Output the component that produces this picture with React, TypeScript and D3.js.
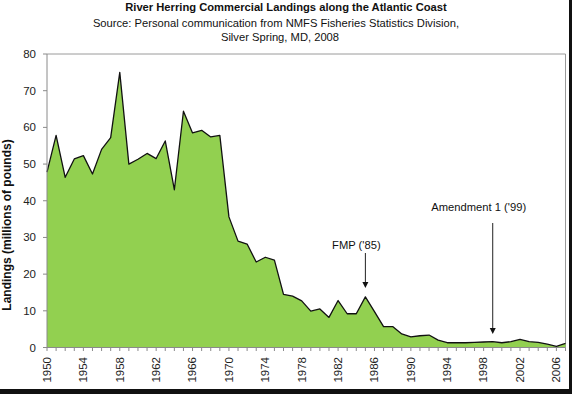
import React from "react";
import * as d3 from "d3";

const years: number[] = d3.range(1950, 2008);
// landings, millions of pounds
const landings: number[] = [
  47.8, 57.8, 46.4, 51.4, 52.3, 47.3, 54.0, 57.2, 75.0, 50.0,
  51.3, 52.9, 51.5, 56.3, 43.0, 64.4, 58.5, 59.2, 57.4, 57.8,
  35.6, 29.0, 28.2, 23.3, 24.6, 23.8, 14.5, 14.0, 12.7, 9.9,
  10.5, 8.2, 12.8, 9.2, 9.2, 13.8, 9.8, 5.7, 5.7, 3.7,
  2.9, 3.2, 3.4, 2.0, 1.3, 1.3, 1.3, 1.4, 1.5, 1.6,
  1.3, 1.6, 2.2, 1.6, 1.4, 0.9, 0.3, 1.1,
];
const yTicks: number[] = [0, 10, 20, 30, 40, 50, 60, 70, 80];
const xLabelYears: number[] = d3.range(1950, 2007, 4);

const title = "River Herring Commercial Landings along the Atlantic Coast";
const subtitle1 = "Source: Personal communication from NMFS Fisheries Statistics Division,";
const subtitle2 = "Silver Spring, MD, 2008";
const yTitle = "Landings (millions of pounds)";
const notes = [
  { label: "FMP ('85)", year: 1985, textDx: -9, textY: 249, top: 253, tip: 288 },
  { label: "Amendment 1 ('99)", year: 1999, textDx: -14, textY: 211, top: 223, tip: 334 },
];

const W = 572;
const H = 394;
const plot = { left: 47, right: 565.5, top: 54, bottom: 347.5 };
const font = "'Liberation Sans', Arial, sans-serif";

export default function App() {
  const x = d3.scaleLinear().domain([1950, 2007]).range([plot.left, plot.right]);
  const y = d3.scaleLinear().domain([0, 80]).range([plot.bottom, plot.top]);

  const data = years.map((yr, i) => ({ yr, v: landings[i] }));
  const area = d3
    .area<{ yr: number; v: number }>()
    .x((d) => x(d.yr))
    .y0(y(0))
    .y1((d) => y(d.v));
  const line = d3
    .line<{ yr: number; v: number }>()
    .x((d) => x(d.yr))
    .y((d) => y(d.v));

  return (
    <svg width={W} height={H} style={{ display: "block", fontFamily: font }}>
      <style>{`body{margin:0}`}</style>
      <rect width={W} height={H} fill="#fff" />

      {/* titles */}
      <text x={286} y={11} textAnchor="middle" fontSize={11.2} fontWeight="bold" fill="#111">
        {title}
      </text>
      <text x={276} y={27} textAnchor="middle" fontSize={11.2} fill="#111">
        {subtitle1}
      </text>
      <text x={280} y={41} textAnchor="middle" fontSize={11.2} fill="#111">
        {subtitle2}
      </text>

      {/* plot frame */}
      <line x1={plot.left} x2={plot.right} y1={plot.top} y2={plot.top} stroke="#9a9a9a" />
      <line x1={plot.right} x2={plot.right} y1={plot.top} y2={plot.bottom} stroke="#9a9a9a" />

      {/* area */}
      <path d={area(data) ?? ""} fill="#92d050" />
      <path d={line(data) ?? ""} fill="none" stroke="#111" strokeWidth={1.3} strokeLinejoin="round" />

      {/* y axis */}
      <line x1={plot.left} x2={plot.left} y1={plot.top} y2={plot.bottom} stroke="#8a8a8a" />
      {yTicks.map((t) => (
        <g key={`y-${t}`}>
          <line x1={plot.left - 4} x2={plot.left} y1={y(t)} y2={y(t)} stroke="#8a8a8a" />
          <text x={36} y={y(t)} dy="0.35em" textAnchor="end" fontSize={11.5} fill="#222">
            {t}
          </text>
        </g>
      ))}
      <text
        transform={`translate(10.5, 225) rotate(-90)`}
        textAnchor="middle"
        fontSize={12}
        fontWeight="bold"
        fill="#111"
      >
        {yTitle}
      </text>

      {/* x axis */}
      <line x1={plot.left} x2={plot.right} y1={plot.bottom} y2={plot.bottom} stroke="#8a8a8a" />
      {years.map((yr) => (
        <line
          key={`xt-${yr}`}
          x1={x(yr)}
          x2={x(yr)}
          y1={plot.bottom}
          y2={plot.bottom + 3.5}
          stroke="#8a8a8a"
        />
      ))}
      {xLabelYears.map((yr) => (
        <text
          key={`xl-${yr}`}
          transform={`translate(${x(yr) + 3.8}, 357) rotate(-90)`}
          textAnchor="end"
          fontSize={11.5}
          fill="#222"
        >
          {yr}
        </text>
      ))}

      {/* annotations */}
      {notes.map((n) => (
        <g key={n.label}>
          <text x={x(n.year) + n.textDx} y={n.textY} textAnchor="middle" fontSize={11.2} fill="#111">
            {n.label}
          </text>
          <line x1={x(n.year)} x2={x(n.year)} y1={n.top} y2={n.tip - 5} stroke="#222" strokeWidth={1} />
          <path
            d={`M${x(n.year) - 3},${n.tip - 6} L${x(n.year) + 3},${n.tip - 6} L${x(n.year)},${n.tip} Z`}
            fill="#111"
          />
        </g>
      ))}

      {/* dark frame edges */}
      <rect x={569} y={0} width={3} height={H} fill="#111" />
      <rect x={0} y={389} width={W} height={5} fill="#111" />
    </svg>
  );
}
